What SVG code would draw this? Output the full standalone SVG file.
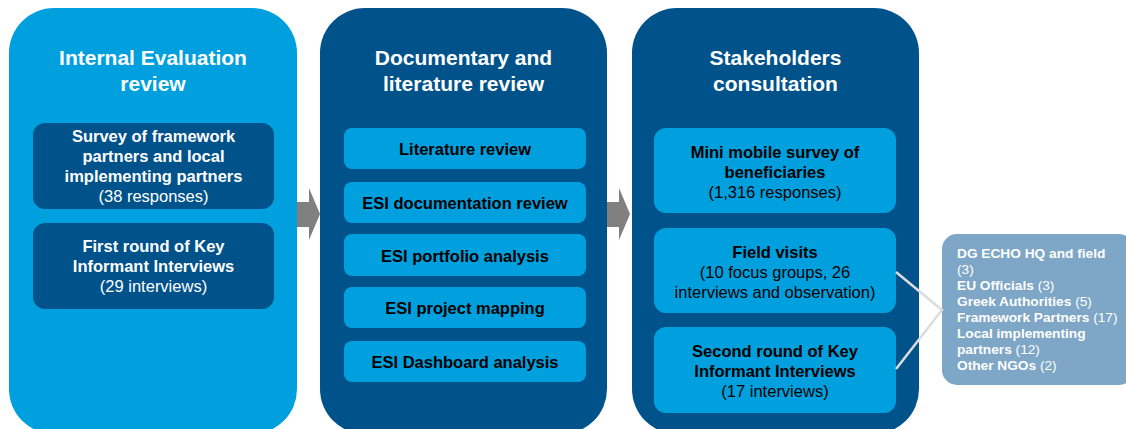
<svg xmlns="http://www.w3.org/2000/svg" width="1126" height="429" viewBox="0 0 1126 429">
<style>
.lb{fill:#00a0df}
.db{fill:#00528b}
.title{font-family:"Liberation Sans",Arial,sans-serif;font-size:21px;font-weight:bold;fill:#fff;text-anchor:middle}
.wt{font-family:"Liberation Sans",Arial,sans-serif;font-size:16.5px;fill:#fff;text-anchor:middle}
.bt{font-family:"Liberation Sans",Arial,sans-serif;font-size:16.5px;fill:#000;text-anchor:middle}
.b{font-weight:bold}
.rt{font-family:"Liberation Sans",Arial,sans-serif;font-size:13.7px;fill:#fff}
.arrow{fill:#808080}
.conn{stroke:#dcdcdc;stroke-width:2.5;fill:none}
</style>
<rect width="1126" height="429" fill="#fff"/>
<g id="panel-internal">
<rect class="lb" x="9" y="8" width="288" height="426" rx="45"/>
<text class="title" x="153" y="65">Internal Evaluation</text>
<text class="title" x="153" y="91">review</text>
</g>
<g id="node-survey">
<rect class="db" x="33" y="123" width="241" height="86" rx="12"/>
<text class="wt" x="153.5" y="142"><tspan class="b">Survey of framework</tspan></text>
<text class="wt" x="153.5" y="162"><tspan class="b">partners and local</tspan></text>
<text class="wt" x="153.5" y="182"><tspan class="b">implementing partners</tspan></text>
<text class="wt" x="153.5" y="202">(38 responses)</text>
</g>
<g id="node-kii1">
<rect class="db" x="33" y="223" width="241" height="86" rx="12"/>
<text class="wt" x="153.5" y="252"><tspan class="b">First round of Key</tspan></text>
<text class="wt" x="153.5" y="272"><tspan class="b">Informant Interviews</tspan></text>
<text class="wt" x="153.5" y="292">(29 interviews)</text>
</g>
<g id="panel-documentary">
<rect class="db" x="320" y="8" width="287" height="426" rx="45"/>
<text class="title" x="463.5" y="65">Documentary and</text>
<text class="title" x="463.5" y="91">literature review</text>
</g>
<g id="node-lit">
<rect class="lb" x="344" y="128" width="242" height="41" rx="8"/>
<text class="bt b" x="465" y="155">Literature review</text>
</g>
<g id="node-esidoc">
<rect class="lb" x="344" y="182" width="242" height="41" rx="8"/>
<text class="bt b" x="465" y="209">ESI documentation review</text>
</g>
<g id="node-esiport">
<rect class="lb" x="344" y="234" width="242" height="42" rx="8"/>
<text class="bt b" x="465" y="262">ESI portfolio analysis</text>
</g>
<g id="node-esimap">
<rect class="lb" x="344" y="287" width="242" height="41" rx="8"/>
<text class="bt b" x="465" y="314">ESI project mapping</text>
</g>
<g id="node-esidash">
<rect class="lb" x="344" y="341" width="242" height="41" rx="8"/>
<text class="bt b" x="465" y="368">ESI Dashboard analysis</text>
</g>
<g id="panel-stakeholders">
<rect class="db" x="632" y="8" width="287" height="426" rx="45"/>
<text class="title" x="775.5" y="65">Stakeholders</text>
<text class="title" x="775.5" y="91">consultation</text>
</g>
<g id="node-mobile">
<rect class="lb" x="654" y="128" width="242" height="85" rx="12"/>
<text class="bt" x="775" y="158"><tspan class="b">Mini mobile survey of</tspan></text>
<text class="bt" x="775" y="178"><tspan class="b">beneficiaries</tspan></text>
<text class="bt" x="775" y="198">(1,316 responses)</text>
</g>
<g id="node-field">
<rect class="lb" x="654" y="228" width="242" height="85" rx="12"/>
<text class="bt" x="775" y="258"><tspan class="b">Field visits</tspan></text>
<text class="bt" x="775" y="278">(10 focus groups, 26</text>
<text class="bt" x="775" y="298">interviews and observation)</text>
</g>
<g id="node-kii2">
<rect class="lb" x="654" y="327" width="242" height="86" rx="12"/>
<text class="bt" x="775" y="357"><tspan class="b">Second round of Key</tspan></text>
<text class="bt" x="775" y="377"><tspan class="b">Informant Interviews</tspan></text>
<text class="bt" x="775" y="397">(17 interviews)</text>
</g>
<g id="node-stakeholders-list">
<rect x="942" y="234" width="192" height="151" rx="15" fill="#7ea6c6"/>
<text class="rt" x="957" y="258"><tspan class="b">DG ECHO HQ and field</tspan></text>
<text class="rt" x="957" y="274">(3)</text>
<text class="rt" x="957" y="290"><tspan class="b">EU Officials</tspan> (3)</text>
<text class="rt" x="957" y="306"><tspan class="b">Greek Authorities</tspan> (5)</text>
<text class="rt" x="957" y="322"><tspan class="b">Framework Partners</tspan> (17)</text>
<text class="rt" x="957" y="338"><tspan class="b">Local implementing</tspan></text>
<text class="rt" x="957" y="354"><tspan class="b">partners</tspan> (12)</text>
<text class="rt" x="957" y="370"><tspan class="b">Other NGOs</tspan> (2)</text>
</g>
<g id="connectors">
<polygon class="arrow" points="297,202 309,202 309,188 320,214 309,240 309,227 297,227"/>
<polygon class="arrow" points="607,202 619,202 619,188 630,214 619,240 619,227 607,227"/>
<polyline class="conn" points="896,272 942,310 896,369"/>
</g>
</svg>
